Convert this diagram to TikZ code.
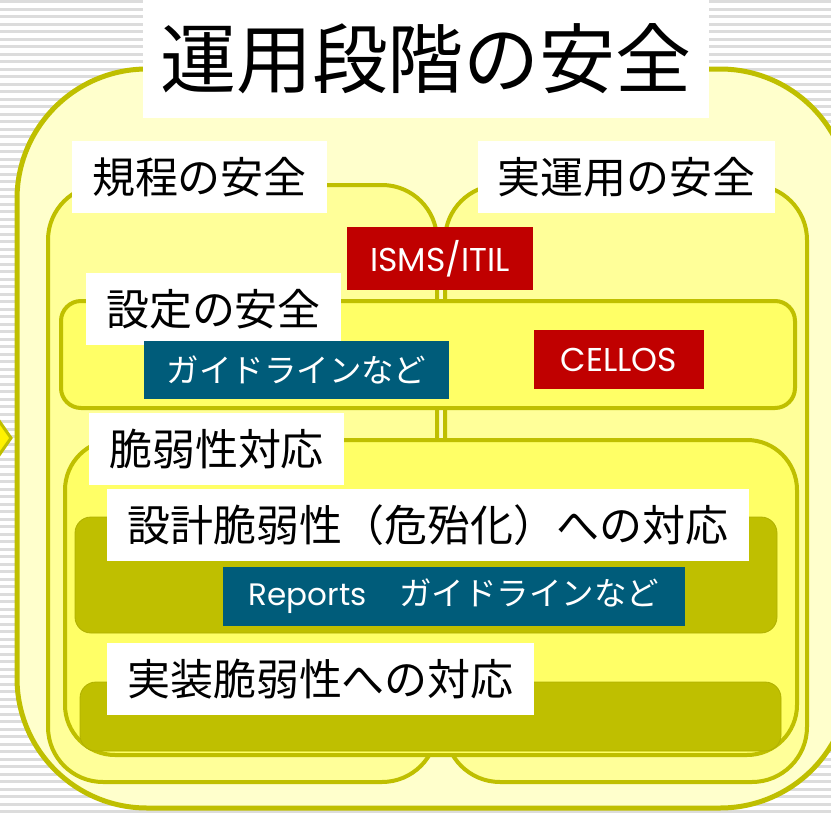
\documentclass[tikz,border=0pt]{standalone}
\usepackage{fontspec}
\setmainfont{Noto Sans CJK JP}
\newfontfamily\latinf{Poppins}
\definecolor{olv}{HTML}{BFBF00}
\definecolor{pale}{HTML}{FFFFCC}
\definecolor{colfill}{HTML}{FFFF99}
\definecolor{boxfill}{HTML}{FFFF66}
\definecolor{redbox}{HTML}{C00000}
\definecolor{bluebox}{HTML}{005C7A}
\definecolor{stripe}{HTML}{DCDCDC}
\begin{document}
\begin{tikzpicture}[x=1pt,y=-1pt,
  whitelabel/.style={fill=white, inner sep=0pt, text=black, font=\fontsize{43}{50}\selectfont},
  redlabel/.style={fill=redbox, inner sep=0pt, text=white, font=\latinf\fontsize{33}{38}\selectfont},
  bluelabel/.style={fill=bluebox, inner sep=0pt, text=white, font=\fontsize{32.5}{38}\selectfont},
  frame/.style={draw=olv, line width=4pt},
  olivebox/.style={fill=olv, draw=olv!92!black, line width=0.8pt, rounded corners=16pt}]
\useasboundingbox (0,0) rectangle (831,817);
\clip (0,0) rectangle (831,817);
% striped background
\fill[white] (0,0) rectangle (831,817);
\foreach \i in {0,...,109} \fill[stripe] (0,{\i*7.5}) rectangle (831,{\i*7.5+3});
% left arrow
\draw[draw=olv, line width=3pt, fill=yellow] (-12,405) -- (11,438) -- (-12,471) -- cycle;
% outer frame
\draw[frame, line width=5pt, fill=pale, rounded corners=130pt] (17,69) rectangle (850,808);
% two columns
\draw[frame, fill=colfill, rounded corners=55pt] (48,185) rectangle (437,782);
\draw[frame, fill=colfill, rounded corners=55pt] (445,185) rectangle (807,782);
% settings box
\draw[frame, fill=boxfill, rounded corners=20pt] (61,301) rectangle (795,408);
% vulnerability box
\draw[frame, fill=boxfill, rounded corners=50pt] (65,440) rectangle (797,755);
% olive boxes
\draw[olivebox] (75,517) rectangle (777,633);
\draw[olivebox] (80,682) rectangle (781,751);
% labels
\node[whitelabel, minimum width=566pt, minimum height=118pt, font=\fontsize{76}{82}\selectfont] (title) at (426,59) {運用段階の安全};
\node[whitelabel, minimum width=255pt, minimum height=72pt] (kitei) at (199.5,177) {規程の安全};
\node[whitelabel, minimum width=297pt, minimum height=72pt] (jitsu) at (626.5,177) {実運用の安全};
\node[redlabel, minimum width=186pt, minimum height=63pt] (isms) at (440,258.5) {ISMS/ITIL};
\node[whitelabel, minimum width=255pt, minimum height=72pt] (settei) at (213.5,309) {設定の安全};
\node[bluelabel, minimum width=305pt, minimum height=58pt] (guide) at (296.5,370) {ガイドラインなど\hspace{8pt}};
\node[redlabel, minimum width=170pt, minimum height=59pt] (cellos) at (619,359.5) {CELLOS\hspace{16pt}};
\node[whitelabel, minimum width=255pt, minimum height=72pt] (zei) at (216.5,449) {脆弱性対応};
\node[whitelabel, minimum width=642pt, minimum height=72pt] (sekkei) at (428,525) {設計脆弱性（危殆化）への対応};
\node[bluelabel, minimum width=462pt, minimum height=59pt] (reports) at (454,596.5) {{\latinf\fontsize{31}{36}\selectfont Reports}　ガイドラインなど\hspace{20pt}};
\node[whitelabel, minimum width=427pt, minimum height=72pt] (jisso) at (320.5,679) {実装脆弱性への対応\hspace{6pt}};
\end{tikzpicture}
\end{document}
